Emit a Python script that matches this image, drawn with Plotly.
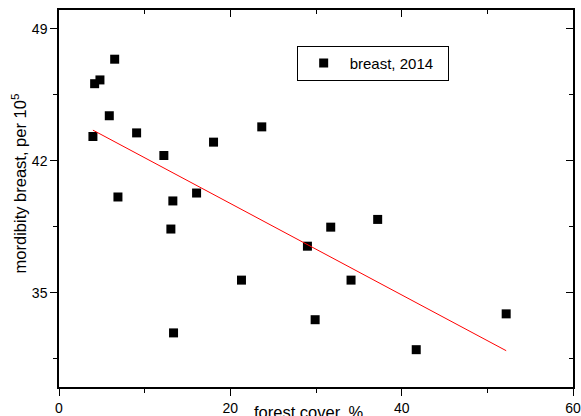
import numpy as np
import plotly.graph_objects as go

forest_cover = [6.5, 4.78, 4.16, 5.87, 3.96, 9.06, 12.24, 18.04, 6.88, 13.29, 16.06,
                23.67, 13.06, 21.3, 29.0, 31.72, 37.2, 34.09, 29.9, 13.37, 52.2, 41.7]
morbidity = [47.39, 46.29, 46.09, 44.39, 43.29, 43.48, 42.28, 42.99, 40.08, 39.87, 40.29,
             43.80, 38.38, 35.67, 37.47, 38.48, 38.89, 35.67, 33.57, 32.87, 33.88, 31.98]
series_name = "breast, 2014"
x_title = "forest cover, %"
y_title = "mordibity breast, per 10<sup>5</sup>"

xa = np.array(forest_cover)
ya = np.array(morbidity)
slope, intercept = np.polyfit(xa, ya, 1)
fit_x = [xa.min(), xa.max()]
fit_y = [intercept + slope * v for v in fit_x]

FONT = "Arial, Liberation Sans, sans-serif"

fig = go.Figure()
fig.add_trace(go.Scatter(x=forest_cover, y=morbidity, mode="markers", name=series_name,
                         marker=dict(symbol="square", size=9, color="black")))
fig.add_trace(go.Scatter(x=fit_x, y=fit_y, mode="lines", showlegend=False,
                         line=dict(color="red", width=1)))
# dummy trace for mirrored (inward) ticks on top/right
fig.add_trace(go.Scatter(x=[None], y=[None], xaxis="x2", yaxis="y2", showlegend=False,
                         hoverinfo="skip"))

axis_common = dict(showgrid=False, zeroline=False, showline=True, linecolor="black",
                   linewidth=1.5, tickcolor="black", tickwidth=1.2, ticklen=7,
                   automargin=False)

fig.update_layout(
    width=581, height=416,
    margin=dict(l=59, r=8, t=10, b=29),
    paper_bgcolor="white", plot_bgcolor="white",
    font=dict(family=FONT, color="black"),
    xaxis=dict(range=[0, 60], tick0=0, dtick=20, ticks="outside",
               tickfont=dict(size=14, family=FONT),
               minor=dict(tick0=0, dtick=10, ticks="outside", ticklen=4, tickcolor="black",
                          tickwidth=1.2),
               **axis_common),
    yaxis=dict(range=[30, 50], tick0=35, dtick=7, ticks="outside",
               tickfont=dict(size=14, family=FONT),
               minor=dict(tick0=35, dtick=3.5, ticks="outside", ticklen=4, tickcolor="black",
                          tickwidth=1.2),
               **axis_common),
    xaxis2=dict(range=[0, 60], tick0=0, dtick=20, ticks="inside", overlaying="x", side="top",
                anchor="y2", showticklabels=False,
                minor=dict(tick0=0, dtick=10, ticks="inside", ticklen=4, tickcolor="black",
                           tickwidth=1.2),
                **axis_common),
    yaxis2=dict(range=[30, 50], tick0=35, dtick=7, ticks="inside", overlaying="y", side="right",
                anchor="x2", showticklabels=False,
                minor=dict(tick0=35, dtick=3.5, ticks="inside", ticklen=4, tickcolor="black",
                           tickwidth=1.2),
                **axis_common),
    legend=dict(x=0.4624, y=0.905, xanchor="left", yanchor="top", orientation="h",
                bordercolor="black", borderwidth=1, bgcolor="white",
                itemwidth=42, entrywidth=93, entrywidthmode="pixels",
                font=dict(size=15, family=FONT)),
    annotations=[
        dict(text=x_title, xref="paper", yref="paper", x=0.485, y=-0.038,
             xanchor="center", yanchor="top", showarrow=False,
             font=dict(size=16.5, family=FONT)),
        dict(text=y_title, xref="paper", yref="paper", x=-0.0778, y=0.54,
             xanchor="center", yanchor="middle", textangle=-90, showarrow=False,
             font=dict(size=16.5, family=FONT)),
    ],
)

fig.write_html("out.html")
